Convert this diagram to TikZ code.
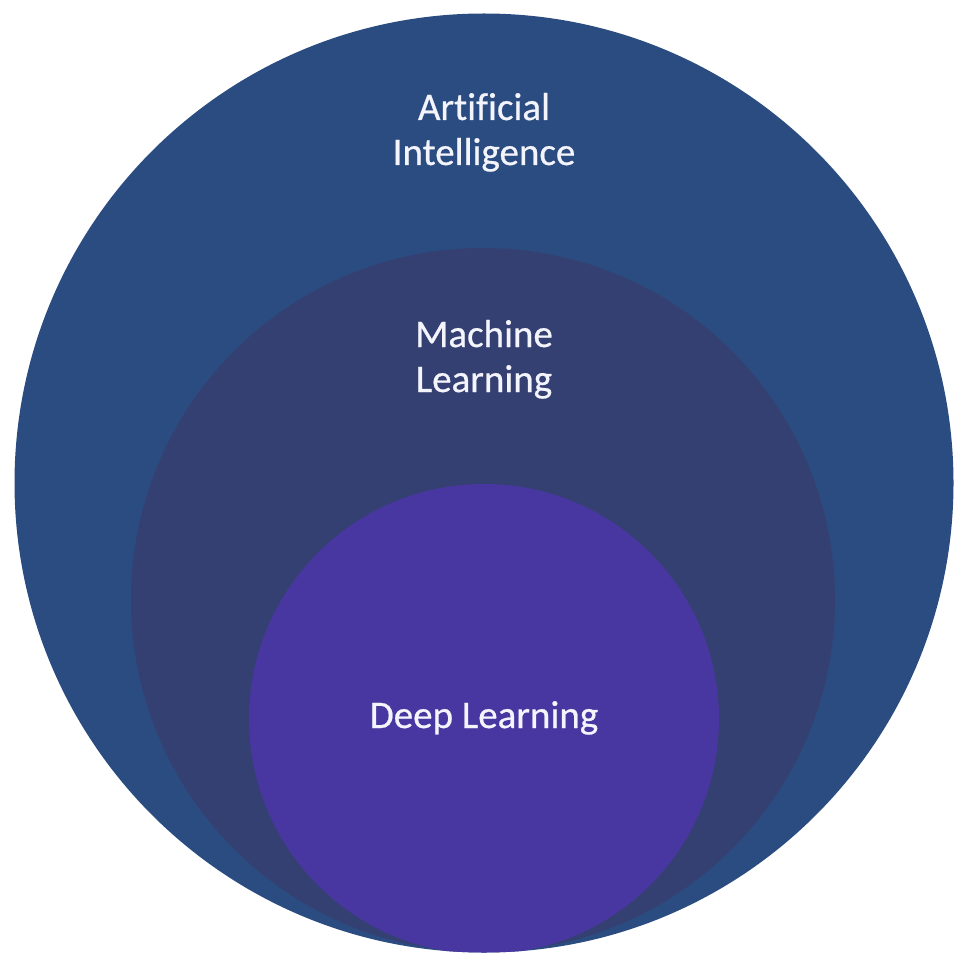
\documentclass[tikz,border=0pt]{standalone}
\usepackage{fontspec}
\newfontfamily\lblfont{Carlito}[Ligatures=NoCommon,UprightFeatures={FakeBold=0.6}]
\definecolor{aiblue}{RGB}{43,76,128}
\definecolor{mlblue}{RGB}{53,64,114}
\definecolor{dlviolet}{RGB}{72,55,160}
\definecolor{labelwhite}{RGB}{244,244,252}
\begin{document}
\begin{tikzpicture}[x=1pt,y=-1pt,
  lbl/.style={anchor=base,inner sep=0pt,text=labelwhite,font=\lblfont\fontsize{39}{45}\selectfont}]
\useasboundingbox (0,0) rectangle (969,968);
\fill[aiblue] (484,483) circle[radius=469.5];
\begin{scope}
  \clip (484,483) circle[radius=469.5];
  \fill[mlblue] (483,600) circle[radius=352];
  \fill[dlviolet] (484,719) circle[radius=235];
\end{scope}
\node[lbl] (ai1) at (484,120) {Artificial};
\node[lbl] (ai2) at (484,165) {Intelligence};
\node[lbl] (ml1) at (484,347) {Machine};
\node[lbl] (ml2) at (484,392) {Learning};
\node[lbl] (dl) at (484,728) {Deep Learning};
\end{tikzpicture}
\end{document}
